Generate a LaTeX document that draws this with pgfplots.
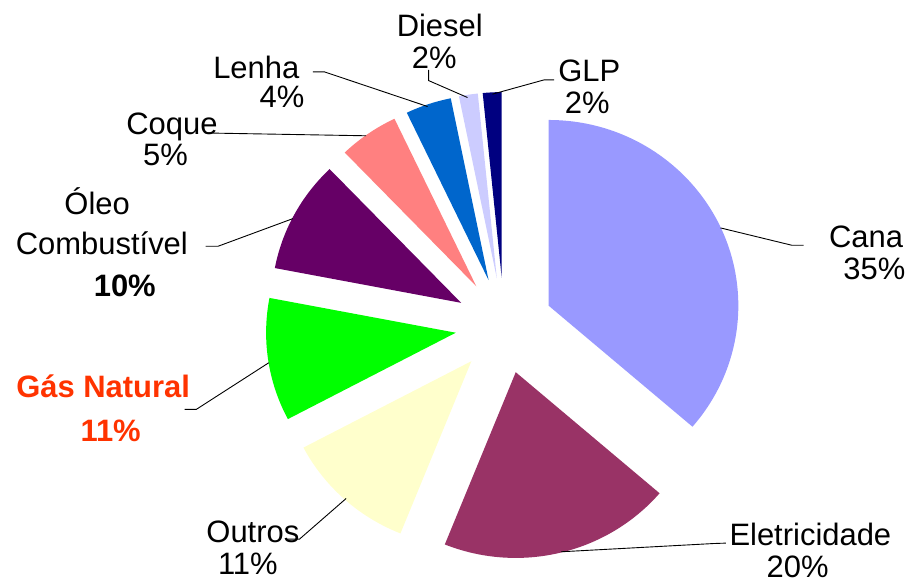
\documentclass[border=0pt]{standalone}
\usepackage{fontspec}
\setmainfont{Liberation Sans}
\usepackage{pgfplots}
\usepackage{pgfplotstable}
\pgfplotsset{compat=1.18}
\definecolor{cana}{HTML}{9999FF}
\definecolor{eletr}{HTML}{993366}
\definecolor{outros}{HTML}{FFFFCC}
\definecolor{gas}{HTML}{00FF00}
\definecolor{oleo}{HTML}{660066}
\definecolor{coque}{HTML}{FF8080}
\definecolor{lenha}{HTML}{0066CC}
\definecolor{diesel}{HTML}{CCCCFF}
\definecolor{glp}{HTML}{000080}
\definecolor{gaslabel}{HTML}{FF3300}
\newcommand\lbl{\fontsize{15.5}{18}\selectfont}

% share of each source (%), clockwise from 12 o'clock
\pgfplotstableread{
label value colour
Cana 36.3 cana
Eletricidade 19.8 eletr
Outros 11.2 outros
GasNatural 10.7 gas
OleoCombustivel 9.8 oleo
Coque 5.1 coque
Lenha 3.9 lenha
Diesel 1.6 diesel
GLP 1.6 glp
}\piedata

\begin{document}
\begin{tikzpicture}
\begin{axis}[
  width=456pt, height=290.5pt, scale only axis,
  xmin=0, xmax=912, ymin=0, ymax=581, y dir=reverse,
  hide axis, clip=false,
]
\path (axis cs:0,0) rectangle (axis cs:912,581);
\def\cum{90}
\pgfplotsforeachungrouped \i in {0,...,8}{%
  \pgfplotstablegetelem{\i}{value}\of\piedata
  \let\val\pgfplotsretval
  \pgfplotstablegetelem{\i}{colour}\of\piedata
  \let\col\pgfplotsretval
  \pgfmathsetmacro\b{\cum-3.6*\val}%
  \pgfmathsetmacro\m{(\cum+\b)/2}%
  \pgfmathsetmacro\vx{505+49*cos(\m)}%
  \pgfmathsetmacro\vy{326.2-48*sin(\m)}%
  \pgfmathsetmacro\sx{95*cos(\cum)}%
  \pgfmathsetmacro\sy{93*sin(\cum)}%
  \edef\temp{\noexpand\fill[\col] (axis cs:\vx,\vy) -- ++(\sx pt,\sy pt) arc[start angle=\cum, end angle=\b, x radius=95pt, y radius=93pt] -- cycle;}%
  \temp
  \global\let\cum\b
}

% leader lines
\pgfplotsset{leader/.style={black, line width=0.45pt, mark=none, forget plot}}
\addplot[leader] coordinates {(429.3,70) (429.3,80.7) (468.3,97.7)};
\addplot[leader] coordinates {(555,80) (545,80) (493.3,94.3)};
\addplot[leader] coordinates {(313.3,72) (325,72) (428.3,106.7)};
\addplot[leader] coordinates {(205,133) (218,133.4) (366.7,136)};
\addplot[leader] coordinates {(206,246.7) (218.3,246.7) (293.3,219)};
\addplot[leader] coordinates {(185,410) (196.7,410) (269.3,363.3)};
\addplot[leader] coordinates {(288,540) (300,540) (346.7,499.3)};
\addplot[leader] coordinates {(805,245.7) (793.3,245.7) (721.7,228.3)};
\addplot[leader] coordinates {(727,544) (715,544.4) (561.7,552.7)};

% labels
\node[anchor=base, font=\lbl] at (axis cs:440.5,36.7) {Diesel};
\node[anchor=base, font=\lbl] at (axis cs:435,68.3) {2\%};
\node[anchor=base, font=\lbl] at (axis cs:590.3,81.7) {GLP};
\node[anchor=base, font=\lbl] at (axis cs:588.3,113.3) {2\%};
\node[anchor=base, font=\lbl] at (axis cs:256.7,78.3) {Lenha};
\node[anchor=base, font=\lbl] at (axis cs:282.5,107.3) {4\%};
\node[anchor=base, font=\lbl] at (axis cs:172.2,135) {Coque};
\node[anchor=base, font=\lbl] at (axis cs:165.8,165.7) {5\%};
\node[anchor=base, font=\lbl] at (axis cs:97.3,215) {Óleo};
\node[anchor=base, font=\lbl] at (axis cs:102,255) {Combustível};
\node[anchor=base, font=\lbl\bfseries] at (axis cs:125,296.7) {10\%};
\node[anchor=base, font=\lbl\bfseries, text=gaslabel] at (axis cs:103.3,398.3) {Gás Natural};
\node[anchor=base, font=\lbl\bfseries, text=gaslabel] at (axis cs:110.8,442.7) {11\%};
\node[anchor=base, font=\lbl] at (axis cs:253.3,543) {Outros};
\node[anchor=base, font=\lbl] at (axis cs:248.3,575) {11\%};
\node[anchor=base, font=\lbl] at (axis cs:867.5,248.3) {Cana};
\node[anchor=base, font=\lbl] at (axis cs:875.8,280) {35\%};
\node[anchor=base, font=\lbl] at (axis cs:811.7,546.7) {Eletricidade};
\node[anchor=base, font=\lbl] at (axis cs:799,578) {20\%};
\end{axis}
\end{tikzpicture}
\end{document}
